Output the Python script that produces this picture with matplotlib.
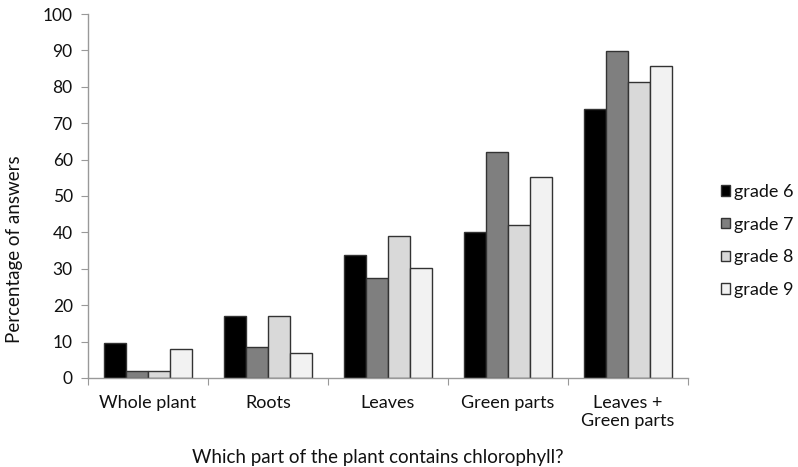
import numpy as np
import matplotlib
matplotlib.use("Agg")
import matplotlib.pyplot as plt
from matplotlib.patches import Patch

plt.rcParams['font.family'] = ['Lato', 'DejaVu Sans']

# data
categories = ["Whole plant", "Roots", "Leaves", "Green parts", "Leaves +\nGreen parts"]
grades = ["grade 6", "grade 7", "grade 8", "grade 9"]
grade6 = [9.6, 17.0, 33.8, 40.1, 74.0]
grade7 = [1.9, 8.4, 27.6, 62.1, 89.7]
grade8 = [1.9, 17.1, 39.0, 42.0, 81.2]
grade9 = [7.9, 6.9, 30.3, 55.1, 85.6]
colors = ["#000000", "#7f7f7f", "#d9d9d9", "#f2f2f2"]

fig = plt.figure(figsize=(7.98, 4.67), dpi=100)
ax = fig.add_axes([0.1103, 0.1906, 0.7519, 0.7794])

x = np.arange(len(categories))
w = 0.183
series = [grade6, grade7, grade8, grade9]
for i, vals in enumerate(series):
    ax.bar(x + (i - 1.5) * w, vals, w, color=colors[i], edgecolor="#333333",
           linewidth=1.0, label=grades[i])

ax.set_xlim(-0.5, len(categories) - 0.5)
ax.set_ylim(0, 100)
ax.set_yticks(range(0, 101, 10))
ax.set_xticks(np.arange(-0.5, len(categories), 1.0))
ax.set_xticklabels([])
ax.set_xticks(x, minor=True)
ax.set_xticklabels(categories, minor=True, fontsize=13, color="#111111")
ax.tick_params(axis="x", which="minor", length=0, pad=12)
ax.tick_params(axis="x", which="major", length=5, color="#999999")
ax.tick_params(axis="y", length=5, color="#999999", labelsize=12.5, pad=6,
               labelcolor="#111111")

for s in ["top", "right"]:
    ax.spines[s].set_visible(False)
for s in ["left", "bottom"]:
    ax.spines[s].set_color("#999999")
    ax.spines[s].set_linewidth(1.0)

fig.text(0.018, 1 - 249 / 467, "Percentage of answers", fontsize=13.5,
         color="#111111", rotation=90, ha="center", va="center")
fig.text(0.474, 1 - 457 / 467, "Which part of the plant contains chlorophyll?",
         fontsize=13.5, color="#111111", ha="center", va="center")

handles = [Patch(facecolor=colors[i], edgecolor="#333333", label=grades[i]) for i in range(4)]
fig.legend(handles=handles, loc="center left", bbox_to_anchor=(0.903, 0.484),
           frameon=False, fontsize=13, handlelength=0.5, handleheight=0.5,
           handletextpad=0.25, labelspacing=0.92, borderpad=0, borderaxespad=0,
           labelcolor="#111111")

fig.savefig("out.png", dpi=100)
